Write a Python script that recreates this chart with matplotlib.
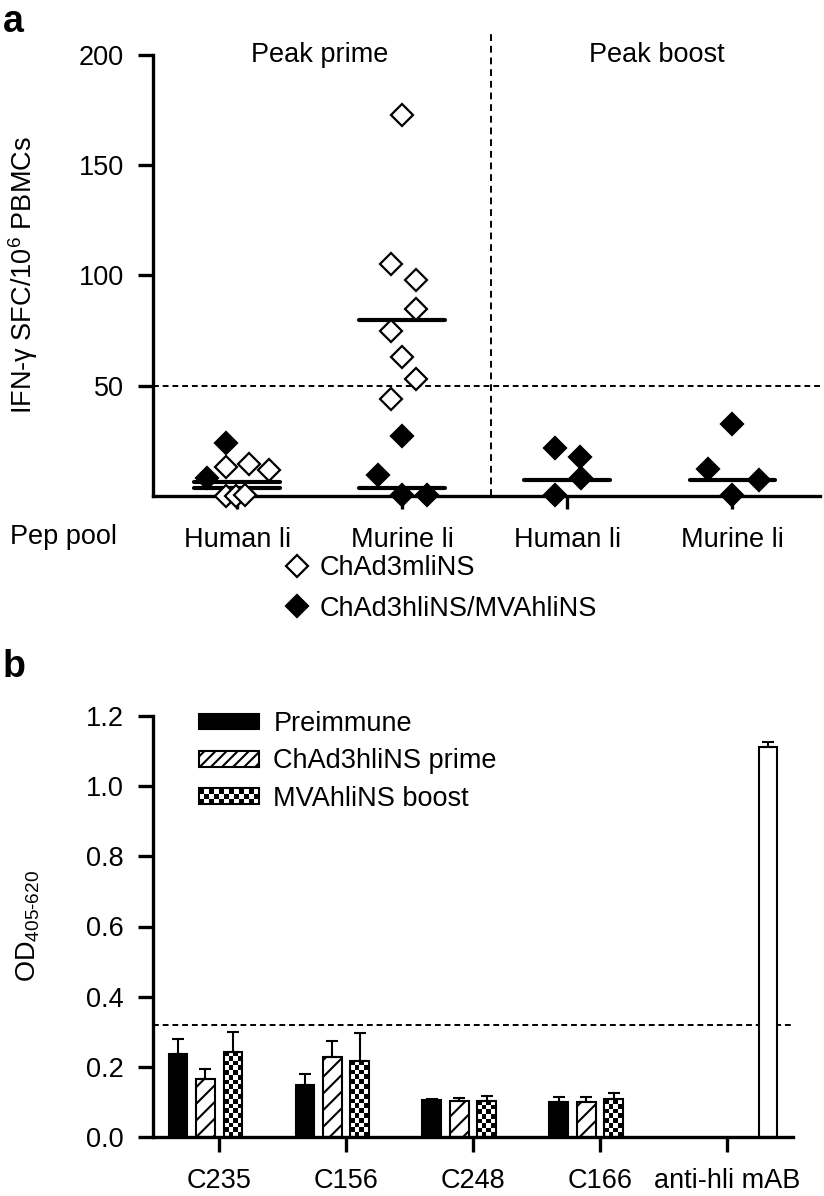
import numpy as np
import matplotlib
matplotlib.use("Agg")
import matplotlib.pyplot as plt
from matplotlib.lines import Line2D
from matplotlib.patches import Rectangle, Patch
from matplotlib.legend_handler import HandlerBase

plt.rcParams['font.family'] = ['Liberation Sans', 'DejaVu Sans']
plt.rcParams['mathtext.fontset'] = 'custom'
plt.rcParams['mathtext.rm'] = 'Liberation Sans'
plt.rcParams['mathtext.it'] = 'Liberation Sans:italic'
plt.rcParams['hatch.linewidth'] = 1.5

### panel a data (IFN-g SFC / 10^6 PBMCs) ###
pools = ['Human li', 'Murine li', 'Human li', 'Murine li']
prime_open = [[13.3, 14.4, 11.8, 0, 0, 0.5],
              [173, 105, 98, 85, 75, 63, 53, 44]]
prime_open_jit = [[-0.07, 0.07, 0.19, -0.07, -0.01, 0.05],
                  [0, -0.07, 0.08, 0.08, -0.07, 0, 0.08, -0.07]]
prime_filled = [[24, 8], [27, 9.5, 0.5, 0.5]]
prime_filled_jit = [[-0.07, -0.18], [0, -0.15, 0, 0.15]]
boost_filled = [[21.7, 17.6, 8.3, 0.5], [32.7, 12.3, 7.3, 0.5]]
boost_filled_jit = [[-0.075, 0.077, 0.083, -0.075], [0, -0.15, 0.16, 0]]
# median bars as drawn in the figure
median_open = [6.5, 80]
median_filled = [3.5, 3.6, 7.3, 7.3]

### panel b data (OD 405-620) ###
groups = ['C235', 'C156', 'C248', 'C166', 'anti-hli mAB']
preimmune = [0.238, 0.148, 0.105, 0.100]
preimmune_err = [0.040, 0.031, 0.003, 0.013]
prime = [0.165, 0.227, 0.103, 0.100]
prime_err = [0.028, 0.046, 0.009, 0.015]
boost = [0.243, 0.217, 0.103, 0.108]
boost_err = [0.055, 0.080, 0.015, 0.017]
mab = [1.112]
mab_err = [0.014]

FS = 19.5
W, H = 824, 1196
fig = plt.figure(figsize=(W / 100, H / 100), dpi=100)

###############
### panel a ###
###############
axa = fig.add_axes([153 / W, 1 - 496 / H, (820 - 153) / W, (496 - 55) / H])
xpos = np.arange(1, 5)
ms, mew = 11.5, 1.6

for i in range(2):
    x = xpos[i] + np.array(prime_filled_jit[i])
    axa.plot(x, prime_filled[i], 'D', color='black', ms=ms, mew=mew,
             clip_on=False, zorder=3)
    x = xpos[i] + np.array(prime_open_jit[i])
    axa.plot(x, prime_open[i], 'D', mfc='white', mec='black', ms=ms, mew=mew,
             clip_on=False, zorder=3.2)
    x = xpos[i + 2] + np.array(boost_filled_jit[i])
    axa.plot(x, boost_filled[i], 'D', color='black', ms=ms, mew=mew,
             clip_on=False, zorder=3)

hw = 0.26
for i, m in enumerate(median_open):
    axa.plot([xpos[i] - hw, xpos[i] + hw], [m, m], color='black', lw=3,
             solid_capstyle='round', zorder=2.8)
for i, m in enumerate(median_filled):
    axa.plot([xpos[i] - hw, xpos[i] + hw], [m, m], color='black', lw=3,
             solid_capstyle='round', zorder=2.8)

axa.axhline(50, color='black', lw=1.4, dashes=(3, 2), zorder=1)
axa.plot([2.54, 2.54], [0, 210], color='black', lw=1.4, dashes=(3.5, 2.5),
         clip_on=False, zorder=1)
axa.text(1.5, 200, 'Peak prime', ha='center', va='center', fontsize=FS)
axa.text(3.54, 200, 'Peak boost', ha='center', va='center', fontsize=FS)

axa.set_xlim(0.49, 4.53)
axa.set_ylim(0, 200)
axa.set_yticks([50, 100, 150, 200])
axa.set_xticks(xpos)
axa.set_xticklabels(pools)
for s in ['top', 'right']:
    axa.spines[s].set_visible(False)
for s in ['left', 'bottom']:
    axa.spines[s].set_linewidth(2.4)
axa.tick_params(axis='y', length=11, width=2.4, pad=10, labelsize=FS)
axa.tick_params(axis='x', length=9, width=2.4, pad=13, labelsize=FS)
axa.set_ylabel('IFN-γ SFC/10$^{\\mathrm{6}}$ PBMCs', fontsize=FS)
axa.yaxis.set_label_coords(-0.17, 0.5)
fig.text(10 / W, 1 - 537 / H, 'Pep pool', fontsize=FS, va='center')

leg_a = [Line2D([], [], ls='none', marker='D', mfc='white', mec='black', ms=ms, mew=mew),
         Line2D([], [], ls='none', marker='D', color='black', ms=ms, mew=mew)]
axa.legend(leg_a, ['ChAd3mliNS', 'ChAd3hliNS/MVAhliNS'], loc='upper left',
           bbox_to_anchor=(283 / W, 1 - 555 / H), bbox_transform=fig.transFigure,
           frameon=False, fontsize=FS, handlelength=1.0, handletextpad=0.35,
           labelspacing=0.55, borderpad=0, borderaxespad=0)

###############
### panel b ###
###############
axb = fig.add_axes([153 / W, 1 - 1137 / H, (793 - 153) / W, (1137 - 716) / H])
gx = np.arange(len(groups))
step, bw = 0.2165, 0.146
lw = 1.5
eb = dict(fmt='none', ecolor='black', elinewidth=lw, capsize=4, capthick=lw, zorder=3)

x1 = gx[:4] - 1.5 * step
x2 = gx[:4] - 0.5 * step
x3 = gx[:4] + 0.5 * step
x4 = gx[4:] + 1.5 * step
axb.bar(x1, preimmune, bw, color='black', edgecolor='black', lw=lw, zorder=2)
axb.bar(x2, prime, bw, color='white', edgecolor='black', lw=lw, hatch='//', zorder=2)
bars_boost = axb.bar(x3, boost, bw, facecolor='none', edgecolor='black', lw=lw, zorder=2)
axb.bar(x4, mab, bw, color='white', edgecolor='black', lw=lw, zorder=2)
axb.errorbar(x1, preimmune, yerr=[np.zeros(4), preimmune_err], **eb)
axb.errorbar(x2, prime, yerr=[np.zeros(4), prime_err], **eb)
axb.errorbar(x3, boost, yerr=[np.zeros(4), boost_err], **eb)
axb.errorbar(x4, mab, yerr=[np.zeros(1), mab_err], **eb)

axb.axhline(0.32, color='black', lw=1.4, dashes=(3, 2), zorder=1)
axb.set_xlim(-0.52, 4.52)
axb.set_ylim(0, 1.2)

# checkerboard fill for the boost bars
cell = 4.7
for rect in bars_boost:
    x0, w, h = rect.get_x(), rect.get_width(), rect.get_height()
    (px0, py0), (px1, py1) = axb.transData.transform([(x0, 0), (x0 + w, h)])
    nc = max(1, int(round((px1 - px0) / cell)))
    nr = max(1, int(round((py1 - py0) / cell)))
    cells = np.add.outer(np.arange(nr), np.arange(nc)) % 2
    im = axb.imshow(cells, cmap='gray_r', vmin=0, vmax=1, extent=(x0, x0 + w, 0, h),
                    aspect='auto', interpolation='nearest', origin='lower', zorder=1.5)
    im.set_clip_path(rect)
axb.set_xlim(-0.52, 4.52)
axb.set_ylim(0, 1.2)

axb.set_yticks(np.arange(0, 1.21, 0.2))
axb.set_yticklabels(['%.1f' % v for v in np.arange(0, 1.21, 0.2)])
axb.set_xticks(gx)
axb.set_xticklabels(groups)
for s in ['top', 'right']:
    axb.spines[s].set_visible(False)
for s in ['left', 'bottom']:
    axb.spines[s].set_linewidth(2.4)
axb.tick_params(axis='y', length=11, width=2.4, pad=10, labelsize=FS)
axb.tick_params(axis='x', length=11, width=2.4, pad=11, labelsize=FS)
axb.set_ylabel('OD$_{\\mathrm{405\u2010620}}$', fontsize=FS)
axb.yaxis.set_label_coords(-0.173, 0.5)


class CheckerKey:
    pass


class CheckerHandler(HandlerBase):
    def create_artists(self, legend, orig_handle, xdescent, ydescent,
                       width, height, fontsize, trans):
        nx, ny = 12, 3
        cw, ch = width / nx, height / ny
        arts = []
        for i in range(nx):
            for j in range(ny):
                if (i + j) % 2 == 0:
                    arts.append(Rectangle((-xdescent + i * cw, -ydescent + j * ch), cw, ch,
                                          facecolor='black', edgecolor='none', transform=trans))
        arts.append(Rectangle((-xdescent, -ydescent), width, height, facecolor='none',
                              edgecolor='black', lw=lw, transform=trans))
        return arts


leg_b = [Patch(facecolor='black', edgecolor='black', lw=lw),
         Patch(facecolor='white', edgecolor='black', lw=lw, hatch='///'),
         CheckerKey()]
axb.legend(leg_b, ['Preimmune', 'ChAd3hliNS prime', 'MVAhliNS boost'], loc='upper left',
           bbox_to_anchor=(199 / W, 1 - 711 / H), bbox_transform=fig.transFigure,
           handler_map={CheckerKey: CheckerHandler()}, frameon=False, fontsize=FS,
           handlelength=2.2, handleheight=0.52, handletextpad=0.55,
           labelspacing=0.42, borderpad=0, borderaxespad=0)

fig.text(3 / W, 1 - 22 / H, 'a', fontsize=27, fontweight='bold', va='center')
fig.text(3 / W, 1 - 667 / H, 'b', fontsize=27, fontweight='bold', va='center')

fig.savefig('out.png', dpi=100)
